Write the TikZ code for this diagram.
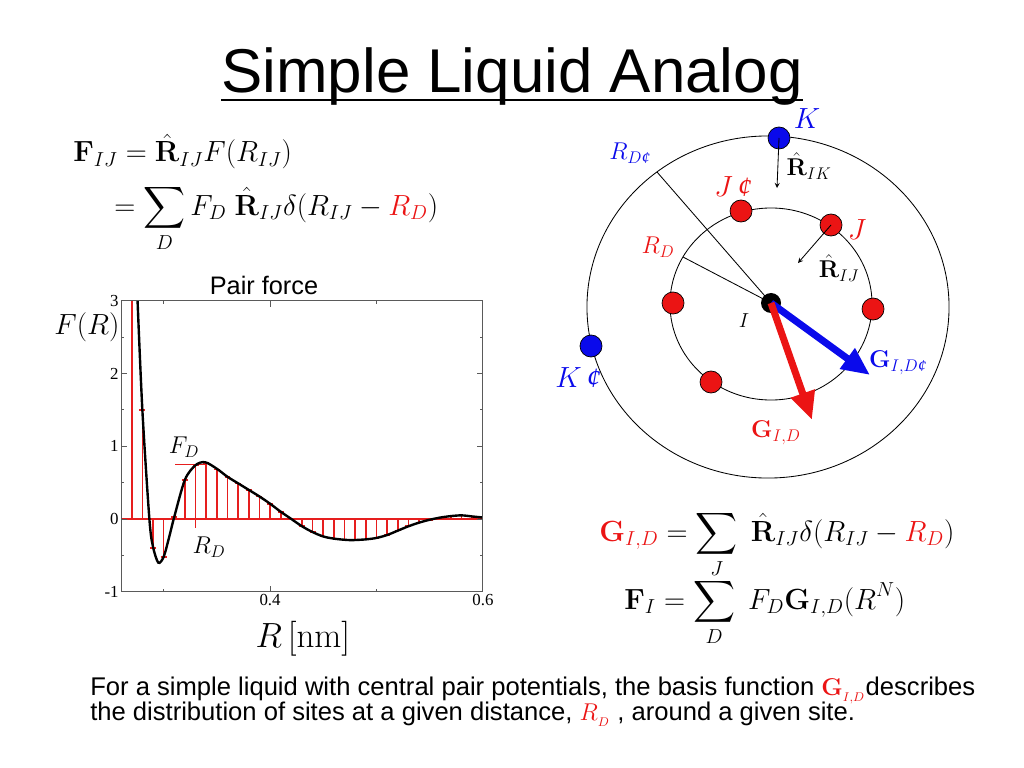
\documentclass[tikz,border=0pt]{standalone}
\usepackage{amsmath}
\usepackage{xcolor}
\usepackage[no-math]{fontspec}
\setmainfont{Liberation Sans}
\newfontfamily\ticksfont{Liberation Serif}
\usetikzlibrary{arrows.meta}

\definecolor{sitered}{RGB}{235,20,20}
\definecolor{siteblue}{RGB}{10,10,235}
\definecolor{barred}{RGB}{230,30,30}
\definecolor{framegray}{RGB}{90,90,90}

\newcommand{\Rhat}{\hat{\mathbf{R}}}
\newcommand{\cnt}{\text{\ticksfont\itshape ¢}}

\tikzset{
  curve/.style={black, line width=1.7pt},
  bar/.style={barred, line width=1.2pt},
  frame/.style={framegray, line width=0.7pt},
  ticklab/.style={font=\ticksfont\fontsize{12}{12}\selectfont, inner sep=1.5pt},
  reddot/.style={circle, draw=black, fill=sitered, minimum size=0.55cm, inner sep=0pt, line width=0.5pt},
  bluedot/.style={circle, draw=black, fill=siteblue, minimum size=0.55cm, inner sep=0pt, line width=0.5pt},
  ring/.style={black, line width=0.6pt},
  eq/.style={font=\fontsize{19.5}{24}\selectfont, inner sep=0pt},
  lab/.style={font=\fontsize{17}{20}\selectfont, inner sep=0pt},
  fatarrow/.style={line width=5pt, -{Triangle[length=20pt,width=17pt]}},
}

\begin{document}
\begin{tikzpicture}[x=0.025cm,y=-0.025cm,>=stealth]
\useasboundingbox (0,0) rectangle (1024,768);

% title
\node[font=\fontsize{44}{50}\selectfont, inner sep=0pt, anchor=base] (title) at (512,93) {Simple Liquid Analog};
\draw[line width=2pt] ([yshift=-5pt]title.base west) -- ([yshift=-5pt]title.base east);

% force on a site
\node[eq, anchor=base west] (eqfa) at (73,162) {$\mathbf{F}_{IJ} = \Rhat_{IJ}F(R_{IJ})$};
\node[eq, anchor=base west] (eqfb) at (114,215) {$\displaystyle = \sum_{D} F_D\;\Rhat_{IJ}\delta(R_{IJ}-\textcolor{sitered}{R_D})$};

% pair force plot
\node[font=\fontsize{18}{20}\selectfont, inner sep=0pt, anchor=base] (ptitle) at (264,294) {Pair force};
\node[font=\fontsize{20}{22}\selectfont, inner sep=0pt, anchor=base] (ylab) at (87,334) {$F(R)$};
\node[font=\fontsize{23}{26}\selectfont, inner sep=0pt, anchor=base] (xlab) at (303,647) {$R\,[\mathrm{nm}]$};

\begin{scope}[shift={(-155.64,519)},x=26.6cm,y=1.81875cm]
  \begin{scope}
    \clip (0.26,-1) rectangle (0.6,3);
    \draw[bar] (0.26,0) -- (0.6,0);
    \foreach \r/\f in {0.26/3.5,0.27/3.5,0.28/1.5,0.29/-0.4,0.30/-0.52,0.31/0.03,0.32/0.54,
        0.33/0.74,0.34/0.77,0.35/0.68,0.36/0.58,0.37/0.49,0.38/0.40,0.39/0.31,0.40/0.21,
        0.41/0.10,0.42/0.0,0.43/-0.10,0.44/-0.18,0.45/-0.24,0.46/-0.27,0.47/-0.29,0.48/-0.29,
        0.49/-0.28,0.50/-0.26,0.51/-0.22,0.52/-0.16,0.53/-0.10,0.54/-0.05,0.55/-0.01,
        0.56/0.02,0.57/0.04,0.58/0.05,0.59/0.035,0.60/0.02}{
      \draw[bar] (\r,0) -- (\r,\f);
      \draw[bar] ({\r-0.0028},\f) -- ({\r+0.0028},\f);
    }
    % F_D and R_D marks
    \draw[bar] (0.311,0.75) -- (0.339,0.75);
    \draw[bar] (0.33,0) -- (0.33,-0.12);
    \draw[curve] plot[smooth] coordinates {(0.2752,3.1) (0.28,1.5) (0.2866,0) (0.29,-0.38)
      (0.295,-0.6) (0.30,-0.52) (0.305,-0.26) (0.31,0.03) (0.32,0.54) (0.33,0.74) (0.339,0.78)
      (0.35,0.69) (0.36,0.58) (0.37,0.49) (0.38,0.40) (0.39,0.31) (0.40,0.21) (0.41,0.10)
      (0.42,0.0) (0.43,-0.10) (0.44,-0.18) (0.45,-0.24) (0.46,-0.27) (0.475,-0.29) (0.49,-0.28)
      (0.50,-0.26) (0.51,-0.22) (0.52,-0.16) (0.53,-0.10) (0.54,-0.05) (0.55,-0.01) (0.56,0.02)
      (0.57,0.04) (0.58,0.05) (0.59,0.035) (0.60,0.02)};
  \end{scope}
  % frame and ticks
  \draw[frame] (0.26,-1) rectangle (0.6,3);
  \foreach \y in {-1,0,1,2,3}{
    \draw[frame] (0.26,\y) -- ++(0.0056,0);
    \draw[frame] (0.6,\y) -- ++(-0.0056,0);
    \node[ticklab, anchor=east] (ytick\y) at (0.26,\y) {\y};
  }
  \foreach \y in {-0.5,0.5,1.5,2.5}{
    \draw[frame] (0.26,\y) -- ++(0.003,0);
    \draw[frame] (0.6,\y) -- ++(-0.003,0);
  }
  \foreach \x/\l in {0.3/0.04,0.4/0.08,0.5/0.04}{
    \draw[frame] (\x,-1) -- ++(0,\l);
    \draw[frame] (\x,3) -- ++(0,-\l);
  }
  \node[ticklab, anchor=north] (xtick4) at (0.4,-1) {0.4};
  \node[ticklab, anchor=north] (xtick6) at (0.6,-1) {0.6};
\end{scope}
\node[font=\fontsize{18}{20}\selectfont, inner sep=0pt] (fdlab) at (184,447) {$F_D$};
\node[font=\fontsize{18}{20}\selectfont, inner sep=0pt] (rdlab) at (209,547) {$R_D$};

% shells around site I
\draw[ring] (768,307) ellipse [x radius=4.525cm, y radius=4.275cm];
\draw[ring] (771,304) ellipse [x radius=2.525cm, y radius=2.4cm];
\coordinate (rd) at (683,257);
\coordinate (rdp) at (657,172);
\draw[ring] (771,303) -- (rd);
\draw[ring] (771,303) -- (rdp);

\node[bluedot] (k) at (779,138) {};
\node[bluedot] (kp) at (591,346) {};
\node[reddot] (jp) at (741,211) {};
\node[reddot] (j) at (831,225) {};
\node[reddot] (jl) at (673,303) {};
\node[reddot] (jr) at (873,309) {};
\node[reddot] (jb) at (711,382) {};
\node[circle, fill=black, minimum size=0.5cm, inner sep=0pt] (i) at (771,303) {};

\coordinate (kend) at (777,188);
\coordinate (jend) at (798,263);
\draw[->, line width=0.6pt] (k.center) -- (kend);
\draw[->, line width=0.6pt] (j.center) -- (jend);

\coordinate (gdp) at (870,375);
\coordinate (gd) at (812,420);
\draw[fatarrow, siteblue] (i.center) -- (gdp);
\draw[fatarrow, sitered] (i.center) -- (gd);

% labels
\node[lab, font=\fontsize{20}{22}\selectfont, text=siteblue] (klab) at (807,119) {$K$};
\node[lab, font=\fontsize{20}{22}\selectfont, text=siteblue] (kplab) at (578,378) {$K\,\cnt$};
\node[lab, font=\fontsize{20}{22}\selectfont, text=sitered] (jplab) at (733,187) {$J\,\cnt$};
\node[lab, font=\fontsize{20}{22}\selectfont, text=sitered] (jlab) at (857,230) {$J$};
\node[lab, text=siteblue] (rdplab) at (630,153) {$R_{D\cnt}$};
\node[lab, text=sitered] (rdlab2) at (658,247) {$R_D$};
\node[lab] (rik) at (809,166) {$\Rhat_{IK}$};
\node[lab] (rij) at (839,268) {$\Rhat_{IJ}$};
\node[lab, font=\fontsize{15}{17}\selectfont] (ilab) at (744,321) {$I$};
\node[lab, text=siteblue] (gdplab) at (898,363) {$\mathbf{G}_{I,D\cnt}$};
\node[lab, text=sitered] (gdlab) at (776,433) {$\mathbf{G}_{I,D}$};

% basis function
\node[eq, anchor=base west] (eqg) at (599,541) {$\displaystyle \textcolor{sitered}{\mathbf{G}_{I,D}} = \sum_{J}\;\Rhat_{IJ}\delta(R_{IJ}-\textcolor{sitered}{R_D})$};
\node[eq, anchor=base west] (eqf) at (624,609) {$\displaystyle \mathbf{F}_{I} = \sum_{D}\;F_D\mathbf{G}_{I,D}(R^N)$};

% caption
\node[font=\fontsize{18.2}{20}\selectfont, inner sep=0pt, anchor=base west] (txta) at (90,695)
  {For a simple liquid with central pair potentials, the basis function \textcolor{sitered}{$\mathbf{G}_{_{I,D}}$}describes};
\node[font=\fontsize{18.2}{20}\selectfont, inner sep=0pt, anchor=base west] (txtb) at (90,720)
  {the distribution of sites at a given distance, \textcolor{sitered}{$R_{_D}$} , around a given site.};
\end{tikzpicture}
\end{document}
